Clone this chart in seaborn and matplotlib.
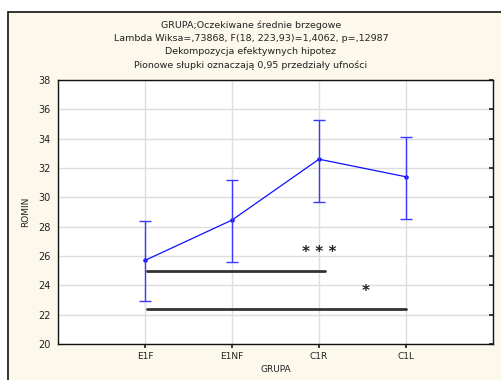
import matplotlib
matplotlib.use("Agg")
import matplotlib.pyplot as plt
import seaborn as sns
import pandas as pd
from matplotlib.patches import Rectangle

groups = ["E1F", "E1NF", "C1R", "C1L"]
means = [25.7, 28.45, 32.6, 31.4]
ci_low = [22.9, 25.6, 29.7, 28.5]
ci_high = [28.4, 31.2, 35.3, 34.1]

sig_start = [0.02, 0.02]
sig_end = [2.07, 3.0]
sig_y = [25.0, 22.4]
sig_text = ["* * *", "*"]
sig_text_x = [2.0, 2.54]
sig_text_y = [26.25, 23.6]

title_lines = [
    "GRUPA;Oczekiwane średnie brzegowe",
    "Lambda Wiksa=,73868, F(18, 223,93)=1,4062, p=,12987",
    "Dekompozycja efektywnych hipotez",
    "Pionowe słupki oznaczają 0,95 przedziały ufności",
]
yticks = [20, 22, 24, 26, 28, 30, 32, 34, 36, 38]

sns.set_theme(style="white")
plt.rcParams["font.family"] = ["DejaVu Sans"]

bg = "#fdf8ec"
fig = plt.figure(figsize=(5.02, 3.8), dpi=100, facecolor="white")
frame = Rectangle((8 / 502, -0.1), 1.2, (380 - 12) / 380 + 0.1,
                  transform=fig.transFigure, facecolor=bg,
                  edgecolor="#111111", linewidth=1.2, zorder=-5)
fig.patches.append(frame)

ax = fig.add_axes([58 / 502, 36 / 380, 435 / 502, 264 / 380])
ax.set_zorder(1)
ax.set_facecolor("white")

df = pd.DataFrame({"GRUPA": groups, "ROMIN": means})
sns.pointplot(data=df, x="GRUPA", y="ROMIN", order=groups, errorbar=None,
              color="#1010ff", markers="o", markersize=2.5, linewidth=0.9, ax=ax)

lo = [m - l for m, l in zip(means, ci_low)]
hi = [h - m for m, h in zip(means, ci_high)]
ax.errorbar(range(len(groups)), means, yerr=[lo, hi], fmt="none",
            ecolor="#3a3aff", elinewidth=1.0, capsize=4.5, capthick=1.0, zorder=3)

for s, e, y in zip(sig_start, sig_end, sig_y):
    ax.plot([s, e], [y, y], color="#333333", linewidth=2.0, zorder=4)
for t, x, y in zip(sig_text, sig_text_x, sig_text_y):
    ax.text(x, y, t, ha="center", va="center", fontsize=11, fontweight="bold",
            color="#222222")

ax.set_xlim(-1, 4)
ax.set_ylim(20, 38)
ax.set_yticks(yticks)
ax.set_xticks(range(len(groups)))
ax.set_xticklabels(groups)
ax.grid(True, color="#dddddd", linewidth=1.0)
ax.set_axisbelow(True)
for sp in ax.spines.values():
    sp.set_visible(True)
    sp.set_color("#111111")
    sp.set_linewidth(1.0)
ax.tick_params(axis="y", which="both", left=False, right=True, direction="in",
               length=3, labelsize=7, pad=5, colors="#222222", labelcolor="#222222")
ax.tick_params(axis="x", bottom=True, direction="out", length=3, labelsize=6.5,
               pad=3, colors="#222222", labelcolor="#222222")
ax.set_xlabel("GRUPA", fontsize=6.5, labelpad=3, color="#222222")
ax.set_ylabel("ROMIN", fontsize=6.5, labelpad=6, color="#222222")

ys = [25, 38.5, 52, 65]
for line, y in zip(title_lines, ys):
    fig.text(0.5, 1 - y / 380, line, ha="center", va="center", fontsize=6.8,
             color="#222222")

fig.savefig("out.png", dpi=100, facecolor="white")
